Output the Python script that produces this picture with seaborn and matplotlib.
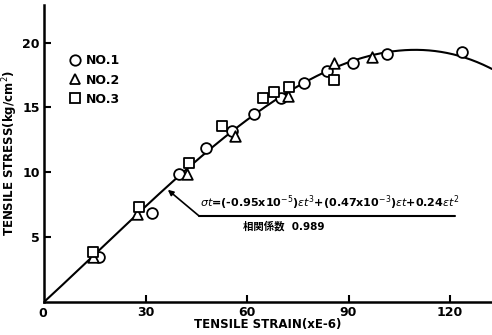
import numpy as np
import pandas as pd
import matplotlib
matplotlib.use("Agg")
import matplotlib.pyplot as plt
from matplotlib.lines import Line2D
import seaborn as sns

# Measured tensile strain (x1e-6) and stress (kg/cm2) for three specimens
no1_strain = [16.2, 31.9, 39.8, 47.8, 55.5, 62.0, 69.9, 76.7, 83.5, 91.2, 101.5, 123.6]
no1_stress = [3.5, 6.9, 9.9, 11.9, 13.2, 14.5, 15.7, 16.9, 17.8, 18.4, 19.1, 19.3]
no2_strain = [14.5, 27.4, 42.2, 56.3, 72.0, 85.8, 97.0]
no2_stress = [3.5, 6.8, 9.9, 12.8, 15.9, 18.4, 18.9]
no3_strain = [14.4, 28.0, 43.0, 52.5, 64.6, 68.1, 72.3, 85.8]
no3_stress = [3.85, 7.3, 10.7, 13.6, 15.7, 16.2, 16.6, 17.1]
specimens = ["NO.1", "NO.2", "NO.3"]

# Regression curve coefficients: stress = c1*e + c2*e^2 + c3*e^3
c1, c2, c3 = 0.24, 0.47e-3, -0.95e-5
corr_label = "相関係数  0.989"

df = pd.concat([
    pd.DataFrame({"strain": no1_strain, "stress": no1_stress, "specimen": "NO.1"}),
    pd.DataFrame({"strain": no2_strain, "stress": no2_stress, "specimen": "NO.2"}),
    pd.DataFrame({"strain": no3_strain, "stress": no3_stress, "specimen": "NO.3"}),
])

sns.set_theme(style="ticks")
plt.rcParams["font.family"] = ["DejaVu Sans", "Noto Sans CJK JP"]
plt.rcParams["mathtext.fontset"] = "dejavusans"
plt.rcParams["text.color"] = "black"
plt.rcParams["axes.labelcolor"] = "black"
plt.rcParams["xtick.color"] = "black"
plt.rcParams["ytick.color"] = "black"
plt.rcParams["axes.edgecolor"] = "black"

fig = plt.figure(figsize=(4.92, 3.35), dpi=100)
ax = fig.add_axes([44 / 492, 33 / 335, 448 / 492, 297 / 335])

xmax, ymax = 132.4, 22.9
curve_x = np.linspace(0, xmax, 300)
curve = pd.DataFrame({"strain": curve_x,
                      "stress": c1 * curve_x + c2 * curve_x**2 + c3 * curve_x**3})
sns.lineplot(data=curve, x="strain", y="stress", color="black", linewidth=1.5, ax=ax)

markers = {"NO.1": "o", "NO.2": "^", "NO.3": "s"}
sizes = {"NO.1": 60, "NO.2": 58, "NO.3": 58}
for name in specimens:
    sub = df[df["specimen"] == name]
    sns.scatterplot(data=sub, x="strain", y="stress", marker=markers[name],
                    s=sizes[name], facecolor="white", edgecolor="black",
                    linewidth=1.3, ax=ax, zorder=3)

ax.set_xlim(0, xmax)
ax.set_ylim(0, ymax)
ax.set_xticks([30, 60, 90, 120])
ax.set_yticks([5, 10, 15, 20])
ax.tick_params(direction="in", length=5, width=1.5, labelsize=9, pad=3)
for lbl in ax.get_xticklabels() + ax.get_yticklabels():
    lbl.set_fontweight("bold")
sns.despine(ax=ax)
for side in ("left", "bottom"):
    ax.spines[side].set_linewidth(1.8)

ax.text(-0.5, -0.4, "0", ha="center", va="top", fontsize=9, fontweight="bold")
ax.set_xlabel("TENSILE STRAIN(xE-6)", fontsize=8.5, fontweight="bold", labelpad=-1)
ax.set_ylabel("TENSILE STRESS(kg/cm$^2$)", fontsize=8.5, fontweight="bold", labelpad=2)

handles = [Line2D([], [], linestyle="none", marker=markers[n], markersize=7.5,
                  markerfacecolor="white", markeredgecolor="black",
                  markeredgewidth=1.3, label=n) for n in specimens]
leg = ax.legend(handles=handles, loc="upper left", bbox_to_anchor=(0.045, 0.855),
                frameon=False, fontsize=9, handlelength=0.8, handletextpad=0.4,
                labelspacing=0.5, borderpad=0)
for t in leg.get_texts():
    t.set_fontweight("bold")

# Leader from the regression equation to the curve
ax.plot([45.8, 121.5], [6.64, 6.64], color="black", linewidth=1.5)
ax.annotate("", xy=(36.6, 8.65), xytext=(45.8, 6.64),
            arrowprops=dict(arrowstyle="-|>", color="black", linewidth=1.2,
                            mutation_scale=8, shrinkA=0, shrinkB=0))
ax.text(46.2, 6.95,
        r"$\sigma t$=(-0.95x10$^{-5}$)$\varepsilon t^3$+(0.47x10$^{-3}$)$\varepsilon t$+0.24$\varepsilon t^2$",
        fontsize=8.0, fontweight="bold", ha="left", va="bottom")
ax.text(58.8, 5.85, corr_label, fontsize=7.5, fontweight="bold", ha="left", va="center")

fig.savefig("out.png", dpi=100)
